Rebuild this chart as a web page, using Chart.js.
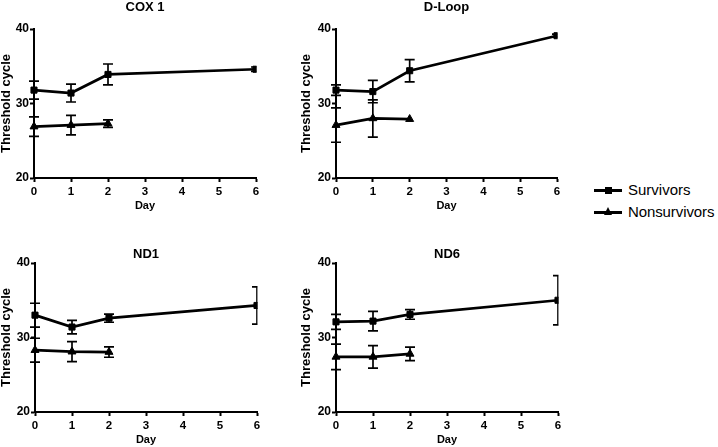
<!DOCTYPE html>
<html><head><meta charset="utf-8">
<script src="https://cdn.jsdelivr.net/npm/chart.js@4.4.1/dist/chart.umd.min.js"></script>
<style>
html,body{margin:0;padding:0;background:#fff;}
body{width:718px;height:447px;position:relative;overflow:hidden;font-family:"Liberation Sans",Arial,sans-serif;}
canvas{position:absolute;}
.leg{position:absolute;left:594px;height:20px;font-size:15px;line-height:20px;color:#000;white-space:nowrap;}
.mk{position:absolute;left:0;top:9px;width:28px;height:3px;background:#000;}
.sq{position:absolute;left:11px;top:-2px;width:7px;height:7px;background:#000;}
.tri{position:absolute;left:10px;top:-4px;width:0;height:0;border-left:4px solid transparent;border-right:4px solid transparent;border-bottom:8px solid #000;}
.lt{position:absolute;left:34px;top:0;}
</style></head>
<body>
<canvas id="c1" width="270" height="214" style="left:0px;top:0px;width:270px;height:214px"></canvas>
<canvas id="c2" width="271" height="214" style="left:300px;top:0px;width:271px;height:214px"></canvas>
<canvas id="c3" width="271" height="214" style="left:0px;top:234px;width:271px;height:214px"></canvas>
<canvas id="c4" width="272" height="214" style="left:300px;top:234px;width:272px;height:214px"></canvas>
<div class="leg" style="top:180px"><span class="mk"><span class="sq"></span></span><span class="lt">Survivors</span></div>
<div class="leg" style="top:202px"><span class="mk"><span class="tri"></span></span><span class="lt" style="letter-spacing:-0.1px">Nonsurvivors</span></div>
<script>
// ---- data ----
const daysSurv = [0, 1, 2, 6];
const daysNon = [0, 1, 2];
const yTicks = [20, 30, 40];

const cox1Surv = [31.8, 31.4, 33.9, 34.6];
const cox1SurvErr = [1.2, 1.2, 1.4, 0.3];
const cox1Non = [26.9, 27.1, 27.3];
const cox1NonErr = [1.3, 1.3, 0.5];

const dloopSurv = [31.8, 31.6, 34.4, 39.1];
const dloopSurvErr = [0.7, 1.5, 1.5, 0.2];
const dloopNon = [27.1, 28.0, 27.9];
const dloopNonErr = [2.3, 2.5, 0];

const nd1Surv = [33.0, 31.4, 32.6, 34.3];
const nd1SurvErr = [1.6, 0.9, 0.55, 2.5];
const nd1Non = [28.3, 28.1, 28.05];
const nd1NonErr = [1.6, 1.35, 0.7];

const nd6Surv = [32.1, 32.2, 33.1, 35.0];
const nd6SurvErr = [1.0, 1.3, 0.65, 3.3];
const nd6Non = [27.4, 27.4, 27.8];
const nd6NonErr = [1.7, 1.5, 0.9];

const FONT = '"Liberation Sans", Arial, Helvetica, sans-serif';

const errorBars = {
  id: 'errorBars',
  afterDatasetsDraw(chart) {
    const ctx = chart.ctx, ys = chart.scales.y, a = chart.chartArea;
    ctx.save();
    ctx.beginPath();
    ctx.rect(a.left - 20, a.top - 20, a.right - a.left + 20.5, a.bottom - a.top + 40);
    ctx.clip();
    ctx.strokeStyle = '#000';
    ctx.lineWidth = 1.7;
    chart.data.datasets.forEach((ds, di) => {
      const meta = chart.getDatasetMeta(di);
      ds.errors.forEach((e, i) => {
        if (!e) return;
        const pt = meta.data[i];
        const v = ds.data[i].y;
        const yt = ys.getPixelForValue(v + e), yb = ys.getPixelForValue(v - e);
        ctx.beginPath();
        ctx.moveTo(pt.x, yt); ctx.lineTo(pt.x, yb);
        ctx.moveTo(pt.x - 5, yt); ctx.lineTo(pt.x + 5, yt);
        ctx.moveTo(pt.x - 5, yb); ctx.lineTo(pt.x + 5, yb);
        ctx.stroke();
      });
    });
    ctx.restore();
  }
};

function makePanel(id, title, surv, survErr, non, nonErr, yW, titlePad) {
  const ds = (days, vals, errs, style, r) => ({
    data: days.map((d, i) => ({ x: d, y: vals[i] })),
    errors: errs,
    borderColor: '#000', backgroundColor: '#000',
    borderWidth: 2.7, tension: 0,
    pointStyle: style, pointRadius: r, pointBorderWidth: 1,
    pointBackgroundColor: '#000', pointBorderColor: '#000',
    clip: { left: 20, top: 20, right: 0.5, bottom: 20 }
  });
  new Chart(document.getElementById(id), {
    type: 'line',
    data: { datasets: [
      ds(daysSurv, surv, survErr, 'rect', 4.3),
      ds(daysNon, non, nonErr, 'triangle', 4.6)
    ] },
    plugins: [errorBars],
    options: {
      responsive: false, animation: false, devicePixelRatio: 1,
      layout: { padding: { left: 0, right: 14, top: 0, bottom: 0 } },
      plugins: {
        legend: { display: false }, tooltip: { enabled: false },
        title: { display: true, text: title, fullSize: false, color: '#000',
          font: { family: FONT, size: 13, weight: 'bold', lineHeight: 1.2 },
          padding: titlePad }
      },
      scales: {
        x: {
          type: 'linear', min: 0, max: 6,
          afterFit(s) { s.height = 36; },
          ticks: { stepSize: 1, color: '#000', padding: 3,
            font: { family: FONT, size: 11.5, weight: 'bold' } },
          grid: { drawOnChartArea: false, drawTicks: true, tickLength: 4, tickWidth: 2, tickColor: '#000', color: '#000' },
          border: { display: true, color: '#000', width: 2 },
          title: { display: true, text: 'Day', color: '#000',
            font: { family: FONT, size: 11, weight: 'bold', lineHeight: 1.2 },
            padding: { top: 0, bottom: 1.4 } }
        },
        y: {
          min: 20, max: 40,
          afterFit(s) { s.width = yW; },
          afterBuildTicks(s) { s.ticks = yTicks.map(v => ({ value: v })); },
          ticks: { color: '#000', padding: 1,
            font: { family: FONT, size: 12, weight: 'bold' } },
          grid: { drawOnChartArea: false, drawTicks: true, tickLength: 4, tickWidth: 2, tickColor: '#000', color: '#000' },
          border: { display: true, color: '#000', width: 2 },
          title: { display: true, text: 'Threshold cycle', color: '#000',
            font: { family: FONT, size: 13, weight: 'bold', lineHeight: 1 },
            padding: { top: 0, bottom: 0 } }
        }
      }
    }
  });
}

makePanel('c1', 'COX 1', cox1Surv, cox1SurvErr, cox1Non, cox1NonErr, 34, { top: 0, bottom: 13.4 });
makePanel('c2', 'D-Loop', dloopSurv, dloopSurvErr, dloopNon, dloopNonErr, 36, { top: 0, bottom: 13.4 });
makePanel('c3', 'ND1', nd1Surv, nd1SurvErr, nd1Non, nd1NonErr, 35, { top: 12.2, bottom: 1.2 });
makePanel('c4', 'ND6', nd6Surv, nd6SurvErr, nd6Non, nd6NonErr, 36, { top: 12.2, bottom: 1.2 });
</script>
</body></html>
